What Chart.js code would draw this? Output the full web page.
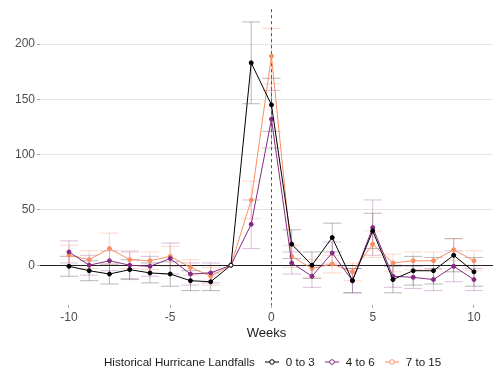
<!DOCTYPE html>
<html>
<head>
<meta charset="utf-8">
<script src="https://cdn.jsdelivr.net/npm/chart.js@4"></script>
<style>
  body { margin: 0; background: #fff; font-family: "Liberation Sans", Arial, sans-serif; }
  #wrap { position: relative; width: 498px; height: 377px; }
  #legend { position: absolute; left: 104px; top: 355px; font-size: 11.6px; color: #1a1a1a;
            display: flex; align-items: center; white-space: nowrap; }
  #legend svg { margin: 0 7px 0 10px; }
</style>
</head>
<body>
<div id="wrap">
  <canvas id="chart" width="498" height="377"></canvas>
  <div id="legend"></div>
</div>
<script>
// Event-study estimates by week, one series per landfall group
const weeks = [-10, -9, -8, -7, -6, -5, -4, -3, -2, -1, 0, 1, 2, 3, 4, 5, 6, 7, 8, 9, 10];

const group1 = [-1, -5, -8, -4, -7, -8, -14, -15, 0, 183, 145, 19, 0, 25, -14, 31, -13, -5, -5, 9, -6];
const group1Err = [9, 9, 9, 9, 9, 11, 9, 8, 0, 37, 24, 13, 12, 13, 11, 16, 12, 13, 12, 15, 13];

const group2 = [12, 0, 4, 0, -1, 6, -8, -7, 0, 37, 132, 2, -10, 11, -14, 34, -10, -11, -13, -1, -13];
const group2Err = [10, 9, 9, 12, 9, 14, 10, 9, 0, 22, 26, 10, 10, 10, 11, 25, 10, 10, 10, 14, 10];

const group3 = [9, 5, 15, 5, 4, 8, -2, -10, 0, 59, 189, 8, -3, 1, -6, 19, 2, 4, 4, 14, 4];
const group3Err = [9, 8, 14, 8, 8, 9, 7, 8, 0, 17, 25, 10, 8, 8, 8, 12, 8, 8, 8, 10, 9];

const groupLabels = ['0 to 3', '4 to 6', '7 to 15'];
const groupColors = ['#000004', '#862a83', '#f98e62'];
const errColors = ['rgba(0,0,0,0.28)', 'rgba(134,42,131,0.3)', 'rgba(249,142,98,0.35)'];

const xTicks = [-10, -5, 0, 5, 10];
const yTicks = [0, 50, 100, 150, 200];
const refWeek = -2;

function makeSeries(i, values, errs) {
  return {
    label: groupLabels[i],
    data: weeks.map((w, j) => ({ x: w, y: values[j] })),
    errors: errs,
    borderColor: groupColors[i],
    borderWidth: 1,
    pointRadius: 2,
    pointBorderWidth: 1,
    pointBorderColor: groupColors[i],
    pointBackgroundColor: (ctx) => weeks[ctx.dataIndex] === refWeek ? '#fff' : groupColors[i],
    errColor: errColors[i],
    tension: 0,
  };
}

// Error bars with caps, drawn behind the lines
const errorBars = {
  id: 'errorBars',
  beforeDatasetsDraw(chart) {
    const { ctx, scales: { x, y } } = chart;
    const half = x.getPixelForValue(0.45) - x.getPixelForValue(0);
    ctx.save();
    ctx.lineWidth = 1;
    chart.data.datasets.forEach((ds) => {
      ctx.strokeStyle = ds.errColor;
      ds.data.forEach((p, j) => {
        const e = ds.errors[j];
        if (!e) return;
        const px = x.getPixelForValue(p.x);
        const top = y.getPixelForValue(p.y + e);
        const bot = y.getPixelForValue(p.y - e);
        ctx.beginPath();
        ctx.moveTo(px, top); ctx.lineTo(px, bot);
        ctx.moveTo(px - half, top); ctx.lineTo(px + half, top);
        ctx.moveTo(px - half, bot); ctx.lineTo(px + half, bot);
        ctx.stroke();
      });
    });
    ctx.restore();
  },
};

// Zero line and dotted event line at week 0
const refLines = {
  id: 'refLines',
  beforeDatasetsDraw(chart) {
    const { ctx, chartArea: a, scales: { x, y } } = chart;
    ctx.save();
    ctx.lineWidth = 1;
    ctx.strokeStyle = '#222';
    const y0 = Math.round(y.getPixelForValue(0)) + 0.5;
    ctx.beginPath(); ctx.moveTo(a.left, y0); ctx.lineTo(a.right, y0); ctx.stroke();
    ctx.strokeStyle = '#555';
    ctx.setLineDash([3, 3]);
    const x0 = Math.round(x.getPixelForValue(0)) + 0.5;
    ctx.beginPath(); ctx.moveTo(x0, a.top); ctx.lineTo(x0, a.bottom); ctx.stroke();
    ctx.restore();
  },
};

new Chart(document.getElementById('chart'), {
  type: 'line',
  data: {
    datasets: [
      makeSeries(0, group1, group1Err),
      makeSeries(1, group2, group2Err),
      makeSeries(2, group3, group3Err),
    ],
  },
  options: {
    responsive: false,
    animation: false,
    layout: { padding: { top: 5, right: 0, bottom: 32, left: 0 } },
    plugins: { legend: { display: false }, tooltip: { enabled: false } },
    scales: {
      x: {
        type: 'linear',
        min: -11.43,
        max: 10.94,
        afterBuildTicks: (s) => { s.ticks = xTicks.map((v) => ({ value: v })); },
        afterFit: (s) => { s.height = 40; },
        grid: { drawOnChartArea: false, tickLength: 3, color: '#aaa' },
        border: { display: false },
        ticks: { color: '#4d4d4d', font: { size: 12, family: 'Liberation Sans' }, padding: 2 },
        title: { display: true, text: 'Weeks', color: '#1a1a1a', font: { size: 13, family: 'Liberation Sans' }, padding: { top: 0 } },
      },
      y: {
        min: -36,
        max: 231.5,
        afterBuildTicks: (s) => { s.ticks = yTicks.map((v) => ({ value: v })); },
        afterFit: (s) => { s.width = 40; },
        grid: { color: '#e6e6e6', tickLength: 3, tickColor: '#aaa' },
        border: { display: false },
        ticks: { color: '#4d4d4d', font: { size: 12, family: 'Liberation Sans' }, padding: 2 },
      },
    },
  },
  plugins: [errorBars, refLines],
});

// Legend below the panel
const legend = document.getElementById('legend');
legend.innerHTML = '<span>Historical Hurricane Landfalls</span>' + groupLabels.map((l, i) => `
  <svg width="14" height="10"><line x1="0" y1="5" x2="14" y2="5" stroke="${groupColors[i]}" stroke-width="1"/>
  <circle cx="7" cy="5" r="2.3" fill="#fff" stroke="${groupColors[i]}" stroke-width="1"/></svg><span>${l}</span>`).join('');
</script>
</body>
</html>
